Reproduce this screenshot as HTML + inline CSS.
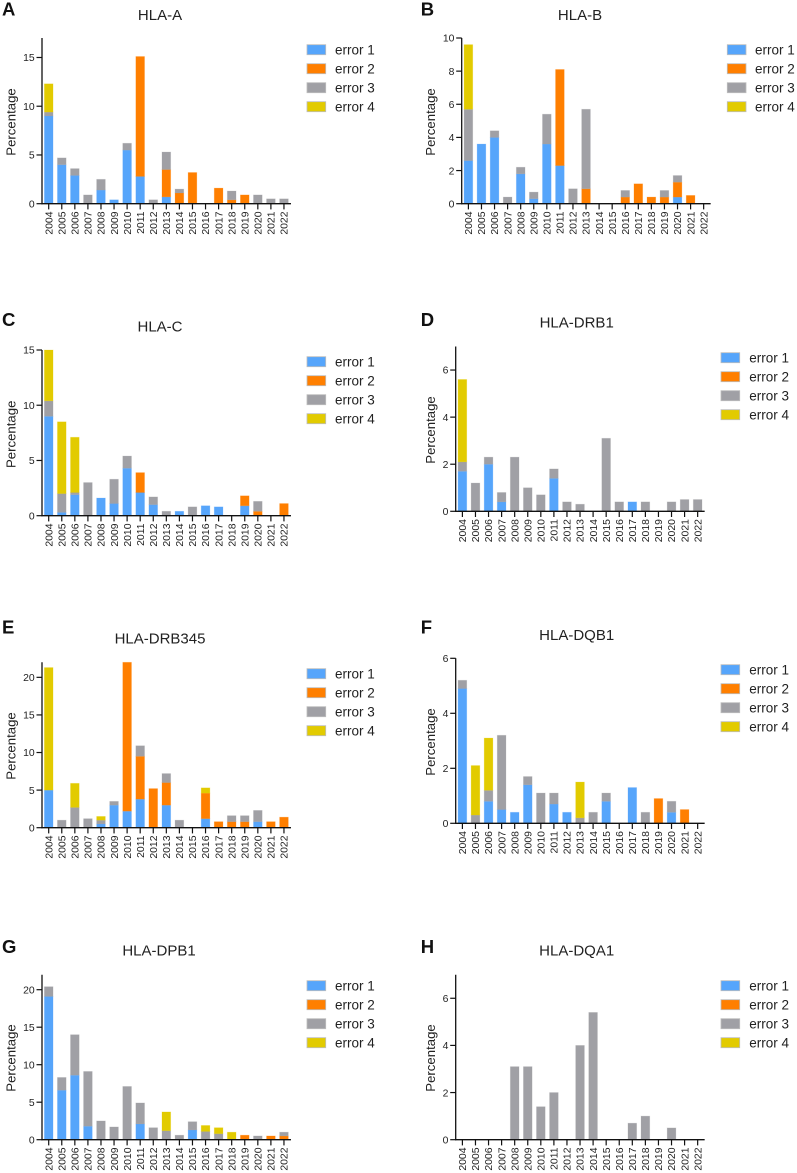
<!DOCTYPE html>
<html lang="en">
<head>
<meta charset="utf-8">
<title>HLA error percentage by year</title>
<style>
html,body{margin:0;padding:0;background:#fff;}
svg{display:block;font-family:"Liberation Sans",Arial,sans-serif;}
.title{font-size:15px;fill:#222;text-anchor:middle;}
.letter{font-size:18.5px;font-weight:bold;fill:#111;}
.ytitle{font-size:13.2px;fill:#222;text-anchor:middle;}
.leg{font-size:13.5px;fill:#222;}
.tick{font-size:10.4px;fill:#222;}
.sw{stroke:#bdbdbd;stroke-width:.8;}
.e1{fill:#56a5fb;}.e2{fill:#ff7f00;}.e3{fill:#a0a0a5;}.e4{fill:#e2cb00;}
</style>
</head>
<body>
<svg id="figure" width="797" height="1173" viewBox="0 0 797 1173" xmlns="http://www.w3.org/2000/svg">

<g id="panel-a">
<text class="letter" x="2" y="15.7">A</text>
<text class="title" x="160" y="20">HLA-A</text>
<text class="ytitle" transform="translate(15.7,122) rotate(-90)">Percentage</text>
<g>
<rect class="sw e1" x="307" y="44.7" width="18.7" height="10"/><text class="leg" x="335" y="54.4">error 1</text>
<rect class="sw e2" x="307" y="63.7" width="18.7" height="10"/><text class="leg" x="335" y="73.4">error 2</text>
<rect class="sw e3" x="307" y="82.7" width="18.7" height="10"/><text class="leg" x="335" y="92.4">error 3</text>
<rect class="sw e4" x="307" y="101.7" width="18.7" height="10"/><text class="leg" x="335" y="111.4">error 4</text>
</g>
</g>

<g id="panel-b">
<text class="letter" x="420.7" y="15.7">B</text>
<text class="title" x="580" y="20">HLA-B</text>
<text class="ytitle" transform="translate(435,122) rotate(-90)">Percentage</text>
<g>
<rect class="sw e1" x="727.3" y="44.7" width="18.7" height="10"/><text class="leg" x="755" y="54.4">error 1</text>
<rect class="sw e2" x="727.3" y="63.7" width="18.7" height="10"/><text class="leg" x="755" y="73.4">error 2</text>
<rect class="sw e3" x="727.3" y="82.7" width="18.7" height="10"/><text class="leg" x="755" y="92.4">error 3</text>
<rect class="sw e4" x="727.3" y="101.7" width="18.7" height="10"/><text class="leg" x="755" y="111.4">error 4</text>
</g>
</g>

<g id="panel-c">
<text class="letter" x="2" y="326">C</text>
<text class="title" x="160" y="331.7">HLA-C</text>
<text class="ytitle" transform="translate(15.7,434.3) rotate(-90)">Percentage</text>
<g>
<rect class="sw e1" x="307" y="356.7" width="18.7" height="10"/><text class="leg" x="335" y="366.4">error 1</text>
<rect class="sw e2" x="307" y="375.7" width="18.7" height="10"/><text class="leg" x="335" y="385.4">error 2</text>
<rect class="sw e3" x="307" y="394.7" width="18.7" height="10"/><text class="leg" x="335" y="404.4">error 3</text>
<rect class="sw e4" x="307" y="413.7" width="18.7" height="10"/><text class="leg" x="335" y="423.4">error 4</text>
</g>
</g>

<g id="panel-d">
<text class="letter" x="420.7" y="326">D</text>
<text class="title" x="576.7" y="327.3">HLA-DRB1</text>
<text class="ytitle" transform="translate(435,430) rotate(-90)">Percentage</text>
<g>
<rect class="sw e1" x="721" y="352.7" width="18.7" height="10"/><text class="leg" x="749.3" y="362.4">error 1</text>
<rect class="sw e2" x="721" y="371.7" width="18.7" height="10"/><text class="leg" x="749.3" y="381.4">error 2</text>
<rect class="sw e3" x="721" y="390.7" width="18.7" height="10"/><text class="leg" x="749.3" y="400.4">error 3</text>
<rect class="sw e4" x="721" y="409.7" width="18.7" height="10"/><text class="leg" x="749.3" y="419.4">error 4</text>
</g>
</g>

<g id="panel-e">
<text class="letter" x="2" y="633.3">E</text>
<text class="title" x="160" y="643.3">HLA-DRB345</text>
<text class="ytitle" transform="translate(15.7,746) rotate(-90)">Percentage</text>
<g>
<rect class="sw e1" x="307" y="668.7" width="18.7" height="10"/><text class="leg" x="335" y="678.4">error 1</text>
<rect class="sw e2" x="307" y="687.7" width="18.7" height="10"/><text class="leg" x="335" y="697.4">error 2</text>
<rect class="sw e3" x="307" y="706.7" width="18.7" height="10"/><text class="leg" x="335" y="716.4">error 3</text>
<rect class="sw e4" x="307" y="725.7" width="18.7" height="10"/><text class="leg" x="335" y="735.4">error 4</text>
</g>
</g>

<g id="panel-f">
<text class="letter" x="420.7" y="633.3">F</text>
<text class="title" x="576.7" y="640">HLA-DQB1</text>
<text class="ytitle" transform="translate(435,742) rotate(-90)">Percentage</text>
<g>
<rect class="sw e1" x="721" y="664.7" width="18.7" height="10"/><text class="leg" x="749.3" y="674.4">error 1</text>
<rect class="sw e2" x="721" y="683.7" width="18.7" height="10"/><text class="leg" x="749.3" y="693.4">error 2</text>
<rect class="sw e3" x="721" y="702.7" width="18.7" height="10"/><text class="leg" x="749.3" y="712.4">error 3</text>
<rect class="sw e4" x="721" y="721.7" width="18.7" height="10"/><text class="leg" x="749.3" y="731.4">error 4</text>
</g>
</g>

<g id="panel-g">
<text class="letter" x="2" y="953">G</text>
<text class="title" x="159" y="955.7">HLA-DPB1</text>
<text class="ytitle" transform="translate(15.7,1058) rotate(-90)">Percentage</text>
<g>
<rect class="sw e1" x="307" y="980.7" width="18.7" height="10"/><text class="leg" x="335" y="990.4">error 1</text>
<rect class="sw e2" x="307" y="999.7" width="18.7" height="10"/><text class="leg" x="335" y="1009.4">error 2</text>
<rect class="sw e3" x="307" y="1018.7" width="18.7" height="10"/><text class="leg" x="335" y="1028.4">error 3</text>
<rect class="sw e4" x="307" y="1037.7" width="18.7" height="10"/><text class="leg" x="335" y="1047.4">error 4</text>
</g>
</g>

<g id="panel-h">
<text class="letter" x="420.7" y="953">H</text>
<text class="title" x="576.7" y="955.7">HLA-DQA1</text>
<text class="ytitle" transform="translate(435,1058) rotate(-90)">Percentage</text>
<g>
<rect class="sw e1" x="721" y="980.7" width="18.7" height="10"/><text class="leg" x="749.3" y="990.4">error 1</text>
<rect class="sw e2" x="721" y="999.7" width="18.7" height="10"/><text class="leg" x="749.3" y="1009.4">error 2</text>
<rect class="sw e3" x="721" y="1018.7" width="18.7" height="10"/><text class="leg" x="749.3" y="1028.4">error 3</text>
<rect class="sw e4" x="721" y="1037.7" width="18.7" height="10"/><text class="leg" x="749.3" y="1047.4">error 4</text>
</g>
</g>
</svg>

<script>
// Categories shared by every panel
const years = ["2004","2005","2006","2007","2008","2009","2010","2011","2012","2013","2014","2015","2016","2017","2018","2019","2020","2021","2022"];

// Panel A: HLA-A
const aError1 = [9.0,4.0,2.9,0,1.4,0.4,5.5,2.8,0,0.7,0,0,0,0,0,0,0,0,0];
const aError2 = [0,0,0,0,0,0,0,12.3,0,2.8,1.1,3.2,0,1.6,0.4,0.9,0,0,0];
const aError3 = [0.4,0.7,0.7,0.9,1.1,0,0.7,0,0.4,1.8,0.4,0,0,0,0.9,0,0.9,0.5,0.5];
const aError4 = [2.9,0,0,0,0,0,0,0,0,0,0,0,0,0,0,0,0,0,0];
const aTicks = [0,5,10,15];

// Panel B: HLA-B
const bError1 = [2.6,3.6,4.0,0,1.8,0.3,3.6,2.3,0,0,0,0,0,0,0,0,0.4,0,0];
const bError2 = [0,0,0,0,0,0,0,5.8,0,0.9,0,0,0.4,1.2,0.4,0.4,0.9,0.5,0];
const bError3 = [3.1,0,0.4,0.4,0.4,0.4,1.8,0,0.9,4.8,0,0,0.4,0,0,0.4,0.4,0,0];
const bError4 = [3.9,0,0,0,0,0,0,0,0,0,0,0,0,0,0,0,0,0,0];
const bTicks = [0,2,4,6,8,10];

// Panel C: HLA-C
const cError1 = [9.0,0.3,1.9,0,1.6,1.1,4.3,2.1,1.0,0,0.4,0,0.9,0.8,0,0.9,0,0,0];
const cError2 = [0,0,0,0,0,0,0,1.8,0,0,0,0,0,0,0,0.9,0.4,0,1.1];
const cError3 = [1.4,1.7,0.2,3.0,0,2.2,1.1,0,0.7,0.4,0,0.8,0,0,0,0,0.9,0,0];
const cError4 = [4.6,6.5,5.0,0,0,0,0,0,0,0,0,0,0,0,0,0,0,0,0];
const cTicks = [0,5,10,15];

// Panel D: HLA-DRB1
const dError1 = [1.7,0,2.0,0.4,0,0,0,1.4,0,0,0,0,0,0.4,0,0,0,0,0];
const dError2 = [0,0,0,0,0,0,0,0,0,0,0,0,0,0,0,0,0,0,0];
const dError3 = [0.4,1.2,0.3,0.4,2.3,1.0,0.7,0.4,0.4,0.3,0,3.1,0.4,0,0.4,0,0.4,0.5,0.5];
const dError4 = [3.5,0,0,0,0,0,0,0,0,0,0,0,0,0,0,0,0,0,0];
const dTicks = [0,2,4,6];

// Panel E: HLA-DRB345
const eError1 = [5.0,0,0,0,0.5,3.0,2.2,3.8,0,3.0,0,0,1.2,0,0,0,0.8,0,0];
const eError2 = [0,0,0,0,0,0,19.8,5.7,5.2,3.0,0,0,3.4,0.8,0.8,0.8,0,0.8,1.4];
const eError3 = [0,1.0,2.7,1.2,0.5,0.5,0,1.4,0,1.2,1.0,0,0,0,0.8,0.8,1.5,0,0];
const eError4 = [16.3,0,3.2,0,0.5,0,0,0,0,0,0,0,0.7,0,0,0,0,0,0];
const eTicks = [0,5,10,15,20];

// Panel F: HLA-DQB1
const fError1 = [4.9,0,0.8,0.5,0.4,1.4,0,0.7,0.4,0,0,0.8,0,1.3,0,0,0.4,0,0];
const fError2 = [0,0,0,0,0,0,0,0,0,0,0,0,0,0,0,0.9,0,0.5,0];
const fError3 = [0.3,0.3,0.4,2.7,0,0.3,1.1,0.4,0,0.2,0.4,0.3,0,0,0.4,0,0.4,0,0];
const fError4 = [0,1.8,1.9,0,0,0,0,0,0,1.3,0,0,0,0,0,0,0,0,0];
const fTicks = [0,2,4,6];

// Panel G: HLA-DPB1
const gError1 = [19.1,6.6,8.6,1.8,0,0,0,2.1,0,0,0,1.3,0,0,0,0,0,0,0];
const gError2 = [0,0,0,0,0,0,0,0,0,0,0,0,0,0,0,0.6,0,0.5,0.5];
const gError3 = [1.3,1.7,5.4,7.3,2.5,1.7,7.1,2.8,1.6,1.2,0.6,1.1,1.1,0.8,0,0,0.5,0,0.5];
const gError4 = [0,0,0,0,0,0,0,0,0,2.5,0,0,0.8,0.8,1.0,0,0,0,0];
const gTicks = [0,5,10,15,20];

// Panel H: HLA-DQA1
const hError1 = [0,0,0,0,0,0,0,0,0,0,0,0,0,0,0,0,0,0,0];
const hError2 = [0,0,0,0,0,0,0,0,0,0,0,0,0,0,0,0,0,0,0];
const hError3 = [0,0,0,0,3.1,3.1,1.4,2.0,0,4.0,5.4,0,0,0.7,1.0,0,0.5,0,0];
const hError4 = [0,0,0,0,0,0,0,0,0,0,0,0,0,0,0,0,0,0,0];
const hTicks = [0,2,4,6];

const SVG_NS = "http://www.w3.org/2000/svg";
const errorClasses = ["e1","e2","e3","e4"];
const errorNames = ["error-1","error-2","error-3","error-4"];
const errorColors = ["#56a5fb","#ff7f00","#a0a0a5","#e2cb00"];

function line(parent, x1, y1, x2, y2, w) {
  const l = document.createElementNS(SVG_NS, "line");
  l.setAttribute("x1", x1);
  l.setAttribute("y1", y1);
  l.setAttribute("x2", x2);
  l.setAttribute("y2", y2);
  l.setAttribute("stroke", "#111");
  l.setAttribute("stroke-width", w);
  parent.appendChild(l);
  return l;
}

function drawPanel(id, series, ticks, yMax, axisX, zeroY, topY) {
  const firstCenter = axisX + 6.7;
  const step = 13.07;
  const xPos = i => firstCenter + i * step;
  const yPos = v => zeroY - v * (zeroY - topY) / yMax;
  const barW = 8.7;
  const panel = document.getElementById(id);

  // Bars
  const bars = document.createElementNS(SVG_NS, "g");
  
  
  panel.appendChild(bars);
  years.forEach((year, i) => {
    let base = 0;
    series.forEach((values, s) => {
      const v = values[i];
      if (v <= 0) return;
      const r = document.createElementNS(SVG_NS, "rect");
      
      
      r.setAttribute("x", xPos(i) - barW / 2);
      r.setAttribute("y", yPos(base + v));
      r.setAttribute("width", barW);
      r.setAttribute("height", yPos(base) - yPos(base + v));
      r.setAttribute("class", errorClasses[s]);
      r.setAttribute("stroke", errorColors[s]);
      r.setAttribute("stroke-opacity", "0.25");
      r.setAttribute("stroke-width", "0.8");
      bars.appendChild(r);
      base += v;
    });
  });

  // Axes
  const yAxis = document.createElementNS(SVG_NS, "g");
  
  
  panel.appendChild(yAxis);
  line(yAxis, axisX, topY, axisX, zeroY + 0.6, 1.3);
  ticks.forEach(t => {
    line(yAxis, axisX - 5.5, yPos(t), axisX, yPos(t), 1.2);
    const label = document.createElementNS(SVG_NS, "text");
    
    
    label.setAttribute("class", "tick");
    label.setAttribute("x", axisX - 7.3);
    label.setAttribute("y", yPos(t) + 3.7);
    label.setAttribute("text-anchor", "end");
    label.textContent = t;
    yAxis.appendChild(label);
  });

  const xAxis = document.createElementNS(SVG_NS, "g");
  
  
  panel.appendChild(xAxis);
  line(xAxis, axisX - 0.6, zeroY, xPos(years.length - 1) + 7, zeroY, 1.3);
  years.forEach((year, i) => {
    line(xAxis, xPos(i), zeroY, xPos(i), zeroY + 5.7, 1.2);
    const label = document.createElementNS(SVG_NS, "text");
    
    
    label.setAttribute("class", "tick");
    label.setAttribute("text-anchor", "end");
    label.setAttribute("transform", "translate(" + (xPos(i) + 3.7) + "," + (zeroY + 7.8) + ") rotate(-90)");
    label.textContent = year;
    xAxis.appendChild(label);
  });
}

drawPanel("panel-a", [aError1,aError2,aError3,aError4], aTicks, 17, 42, 203.7, 38);
drawPanel("panel-b", [bError1,bError2,bError3,bError4], bTicks, 10, 461.7, 203.7, 38);
drawPanel("panel-c", [cError1,cError2,cError3,cError4], cTicks, 15, 42, 515.7, 350);
drawPanel("panel-d", [dError1,dError2,dError3,dError4], dTicks, 7, 455.7, 511.3, 346.5);
drawPanel("panel-e", [eError1,eError2,eError3,eError4], eTicks, 22, 42, 827.7, 662.3);
drawPanel("panel-f", [fError1,fError2,fError3,fError4], fTicks, 6, 455.7, 823.3, 658.3);
drawPanel("panel-g", [gError1,gError2,gError3,gError4], gTicks, 22, 42, 1139.7, 974.7);
drawPanel("panel-h", [hError1,hError2,hError3,hError4], hTicks, 7, 455.7, 1139.7, 974.7);
</script>
</body>
</html>
